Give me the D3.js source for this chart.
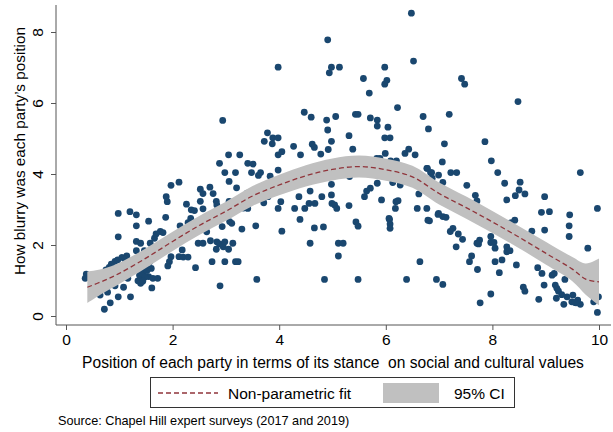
<!DOCTYPE html>
<html>
<head>
<meta charset="utf-8">
<script src="https://cdn.jsdelivr.net/npm/d3@7"></script>
<style>
html,body{margin:0;padding:0;background:#fff;}
svg{display:block;font-family:"Liberation Sans",Arial,Helvetica,sans-serif;}
</style>
</head>
<body>
<svg id="chart" width="613" height="432"></svg>
<script>
// ---- DATA ----
const xTicks = [0, 2, 4, 6, 8, 10];
const yTicks = [0, 2, 4, 6, 8];
const xTitle = "Position of each party in terms of its stance  on social and cultural values";
const yTitle = "How blurry was each party\u2019s position";
const sourceNote = "Source: Chapel Hill expert surveys (2017 and 2019)";
const legendLabels = ["Non-parametric fit", "95% CI"];

// party position (x) and blurriness (y)
const partyPos = [
2.94,3.05,3.26,2.88,
6.48,4.91,3.98,4.98,5.13,4.94,5.98,6.52,5.58,6.02,5.98,5.69,6.22,4.47,4.60,4.89,5.06,5.43,5.48,5.71,5.84,5.84,6.04,6.70,6.80,4.91,3.78,3.72,3.87,3.88,3.98,4.27,4.62,4.66,4.98,4.92,5.31,5.38,5.98,6.08,5.99,6.43,6.36,6.55,3.98,4.05,4.40,4.78,3.41,3.51,5.83,5.89,6.09,6.20,
7.42,7.48,8.48,7.19,7.10,7.86,7.06,7.98,
2.98,3.18,3.06,3.20,1.97,2.12,2.52,2.70,2.57,2.76,2.52,1.88,1.90,2.26,2.35,2.41,2.57,2.82,2.83,2.93,2.91,3.06,3.33,0.98,1.20,1.32,1.32,1.55,1.87,2.34,2.29,2.14,0.98,1.32,1.40,1.32,1.47,1.58,1.66,1.77,1.82,1.69,1.97,1.94,1.91,2.18,2.12,2.20,2.29,2.43,2.48,2.57,2.64,2.71,2.83,2.88,2.82,2.95,3.05,2.98,3.13,3.07,3.11,2.93,2.74,2.98,3.18,3.23,2.89,3.30,
0.38,0.36,0.81,0.85,0.92,1.05,1.14,1.19,1.16,1.33,1.38,1.35,1.45,1.50,1.57,1.60,1.55,1.63,1.72,1.61,1.45,1.40,1.27,1.08,0.92,1.21,0.98,0.78,0.64,0.83,0.72,0.60,0.75,0.97,1.11,1.42,1.48,1.52,1.38,1.44,
3.48,3.61,3.65,3.83,3.98,3.40,3.41,3.71,3.79,3.56,3.98,4.03,4.05,4.29,4.37,4.39,4.48,4.56,4.58,4.67,4.80,4.66,4.83,4.58,4.98,4.98,4.99,5.04,5.08,5.31,5.32,5.44,5.48,5.11,5.20,5.11,3.58,4.85,5.48,6.39,6.95,5.60,5.64,5.71,5.84,5.92,6.07,6.08,6.08,6.13,6.27,6.19,6.23,6.18,6.62,6.59,6.77,6.79,6.82,6.64,6.77,6.86,
6.99,7.22,7.33,7.07,7.52,8.10,8.23,8.52,8.50,8.43,8.61,8.27,7.68,7.71,9.65,8.98,8.92,9.07,9.45,9.44,9.44,9.97,8.98,8.74,9.79,6.99,7.07,7.13,7.21,7.26,7.36,7.44,7.32,7.71,7.76,7.74,7.97,7.97,8.03,8.05,8.29,8.35,8.42,8.44,8.49,8.27,8.27,8.33,8.18,8.05,8.45,7.61,7.57,7.72,8.13,7.07,7.97,7.77,8.58,8.61,8.85,8.93,8.97,8.87,8.99,9.12,9.16,9.18,9.21,9.24,9.20,9.34,9.40,9.51,9.49,9.57,9.65,9.36,9.90,9.99,9.97,
6.78,6.84,6.87,6.06,6.98,9.60,9.30,9.55
];
const blurriness = [
5.51,4.54,4.54,4.30,
8.53,7.78,7.01,7.01,7.01,6.85,7.01,7.18,6.69,6.64,6.53,6.28,5.87,5.74,5.60,5.52,5.62,5.68,5.68,5.58,5.52,5.35,5.32,5.62,5.27,5.24,5.16,4.92,4.85,5.02,5.02,4.78,4.84,4.75,4.92,4.69,5.08,4.70,5.02,5.02,4.58,4.70,4.58,4.54,4.54,4.63,4.54,4.56,4.30,4.28,4.44,4.44,4.37,4.37,
6.69,6.53,6.04,5.68,4.85,4.91,4.34,4.37,
4.04,4.04,3.79,3.61,3.68,3.77,3.57,3.63,3.45,3.45,3.23,3.36,3.22,3.15,2.99,2.97,3.02,3.23,3.13,2.97,2.82,3.23,3.04,2.89,2.94,2.85,2.54,2.67,2.78,2.75,2.63,2.54,2.23,2.10,2.05,1.84,1.84,2.05,2.19,2.38,2.35,2.31,1.67,1.53,1.41,1.86,1.67,1.66,1.66,1.36,2.05,2.05,2.37,2.12,2.09,2.03,1.88,1.95,1.88,2.09,2.05,2.66,2.61,2.52,1.53,1.53,1.53,1.53,0.85,2.45,
1.18,1.06,1.37,1.46,1.54,1.65,1.69,1.39,1.06,1.34,1.15,0.99,1.25,1.39,1.53,1.34,1.11,1.06,1.06,0.79,1.06,0.92,1.30,0.81,0.85,0.54,0.54,0.67,0.59,0.37,0.19,1.15,1.30,1.58,1.60,1.20,1.10,1.28,1.40,0.98,
4.04,3.96,4.04,3.94,4.11,3.46,3.03,3.19,3.36,2.54,3.03,3.22,2.39,3.03,3.36,2.72,3.03,3.17,3.52,3.17,3.36,2.48,2.51,2.05,3.71,3.41,3.17,3.13,3.03,3.11,3.93,2.65,2.53,2.05,2.05,1.69,1.03,1.03,1.03,1.03,1.03,3.36,3.52,3.60,3.74,3.27,2.72,2.59,2.47,3.76,3.69,3.22,3.25,3.03,3.44,3.03,3.03,2.70,2.68,1.53,4.16,4.04,
3.97,4.04,4.04,3.76,3.68,4.04,3.74,3.77,3.55,3.39,3.44,3.27,3.40,3.24,4.04,3.36,2.92,2.94,2.85,2.54,2.24,3.03,2.42,2.39,1.91,2.89,2.80,2.78,2.38,2.47,2.31,2.16,1.95,2.05,2.14,2.03,2.24,2.07,2.07,1.91,2.61,2.63,2.70,2.42,2.39,1.95,1.81,1.84,1.58,1.53,1.44,1.69,1.53,1.31,1.22,0.89,0.62,0.37,0.81,0.70,1.36,1.20,0.87,0.47,1.97,1.15,1.20,0.87,0.78,0.70,0.50,0.33,0.54,0.59,0.40,0.37,0.33,1.03,0.40,0.54,0.10,
4.16,4.04,3.88,2.75,2.86,0.45,0.60,0.38
];

// non-parametric fit and 95% CI
const fitX  = [0.40,0.70,1.00,1.50,2.00,2.50,3.00,3.50,4.00,4.50,5.00,5.50,6.00,6.50,7.00,7.50,8.00,8.50,9.00,9.50,9.75,10.00];
const fitY  = [0.81,0.99,1.20,1.63,2.10,2.55,2.95,3.38,3.69,3.95,4.13,4.21,4.12,3.92,3.45,3.06,2.65,2.22,1.77,1.32,1.04,0.96];
const ciHalf= [0.44,0.34,0.30,0.28,0.27,0.27,0.27,0.28,0.29,0.30,0.31,0.31,0.31,0.31,0.31,0.31,0.31,0.31,0.32,0.34,0.44,0.66];

// ---- DRAW ----
const svg = d3.select("#chart");
const x = d3.scaleLinear().domain([0, 10]).range([66, 599]);
const y = d3.scaleLinear().domain([0, 8]).range([316, 32]);

const navy = "#1a476f", maroon = "#90353b", bandCol = "#c0c0c0";
const FONT = "Liberation Sans, Arial, sans-serif";

const pts = partyPos.map((p, i) => ({x: p, y: blurriness[i]}));
svg.append("g").selectAll("circle").data(pts).join("circle")
  .attr("cx", d => x(d.x)).attr("cy", d => y(d.y)).attr("r", 3.4)
  .attr("fill", navy);

const fit = fitX.map((v, i) => ({x: v, y: fitY[i], lo: fitY[i] - ciHalf[i], hi: fitY[i] + ciHalf[i]}));
svg.append("path").datum(fit)
  .attr("d", d3.area().x(d => x(d.x)).y0(d => y(d.lo)).y1(d => y(d.hi)).curve(d3.curveCatmullRom))
  .attr("fill", bandCol);
svg.append("path").datum(fit)
  .attr("d", d3.line().x(d => x(d.x)).y(d => y(d.y)).curve(d3.curveCatmullRom))
  .attr("fill", "none").attr("stroke", maroon).attr("stroke-width", 1.3)
  .attr("stroke-dasharray", "5,3");

// axes
const axisCol = "#555";
const xAxis = svg.append("g").attr("transform", "translate(0,325)")
  .call(d3.axisBottom(x).tickValues(xTicks).tickSize(5).tickPadding(4).tickFormat(d3.format("d")));
xAxis.select(".domain").remove();
xAxis.append("line").attr("x1", 56).attr("x2", 611).attr("y1", 0).attr("y2", 0).attr("stroke", axisCol);
xAxis.selectAll(".tick line").attr("stroke", axisCol);
xAxis.selectAll(".tick text").attr("font-size", 15.5).attr("fill", "#000").attr("font-family", FONT);

const yAxis = svg.append("g").attr("transform", "translate(56,0)")
  .call(d3.axisLeft(y).tickValues(yTicks).tickSize(5).tickFormat(d3.format("d")));
yAxis.select(".domain").remove();
yAxis.append("line").attr("x1", 0).attr("x2", 0).attr("y1", 5).attr("y2", 325).attr("stroke", axisCol);
yAxis.selectAll(".tick line").attr("stroke", axisCol);
yAxis.selectAll(".tick text")
  .attr("x", null).attr("dy", null)
  .attr("transform", "translate(-13,0) rotate(-90)")
  .attr("text-anchor", "middle").attr("y", 0)
  .attr("font-size", 15.5).attr("fill", "#000").attr("font-family", FONT);

// titles
svg.append("text").attr("x", 333).attr("y", 368).attr("text-anchor", "middle")
  .attr("font-size", 15.6).style("white-space", "pre").text(xTitle);
svg.append("text").attr("transform", "translate(25,151) rotate(-90)").attr("text-anchor", "middle")
  .attr("font-size", 15.3).text(yTitle);

// legend
const lg = svg.append("g");
lg.append("rect").attr("x", 150.5).attr("y", 377.5).attr("width", 364).attr("height", 30)
  .attr("fill", "#fff").attr("stroke", "#333").attr("stroke-width", 1);
lg.append("line").attr("x1", 158).attr("x2", 218).attr("y1", 393).attr("y2", 393)
  .attr("stroke", maroon).attr("stroke-width", 1.3).attr("stroke-dasharray", "5,3");
lg.append("text").attr("x", 228).attr("y", 398.5).attr("font-size", 15.5).text(legendLabels[0]);
lg.append("rect").attr("x", 383).attr("y", 383).attr("width", 56).attr("height", 20).attr("fill", bandCol);
lg.append("text").attr("x", 454).attr("y", 398.5).attr("font-size", 15.5).text(legendLabels[1]);

svg.append("text").attr("x", 58).attr("y", 425).attr("font-size", 12.7).text(sourceNote);
</script>
</body>
</html>
